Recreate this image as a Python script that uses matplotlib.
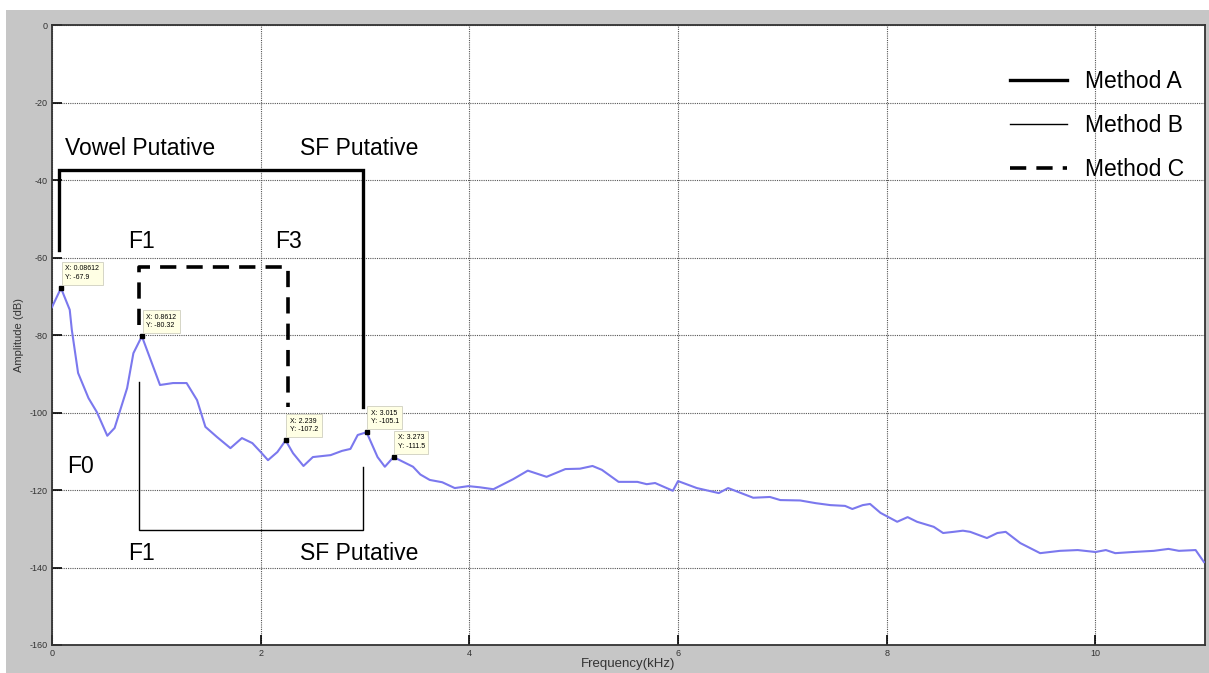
import matplotlib
matplotlib.use('Agg')
from matplotlib import pyplot as plt
from matplotlib.patches import Rectangle

plt.rcParams['font.family'] = ['Liberation Sans', 'DejaVu Sans']
plt.rcParams['axes.unicode_minus'] = False

# spectrum (kHz, dB)
freq = [0.0, 0.08612, 0.17, 0.19, 0.25, 0.35, 0.43, 0.53, 0.60, 0.72, 0.78, 0.8612,
        1.035, 1.16, 1.29, 1.39, 1.47, 1.58, 1.71, 1.82, 1.92, 2.0, 2.07, 2.16, 2.239,
        2.31, 2.41, 2.5, 2.67, 2.78, 2.86, 2.93, 3.015, 3.12, 3.19, 3.273, 3.46, 3.53,
        3.62, 3.74, 3.86, 3.99, 4.1, 4.23, 4.42, 4.56, 4.74, 4.92, 5.06, 5.18, 5.27,
        5.43, 5.61, 5.7, 5.78, 5.95, 6.0, 6.18, 6.39, 6.48, 6.72, 6.88, 6.98, 7.17,
        7.32, 7.46, 7.6, 7.67, 7.77, 7.84, 7.94, 8.1, 8.2, 8.29, 8.45, 8.54, 8.64,
        8.73, 8.8, 8.96, 9.06, 9.14, 9.28, 9.47, 9.66, 9.83, 10.0, 10.1, 10.19, 10.36,
        10.56, 10.7, 10.8, 10.96, 11.04]
amp = [-72.8, -67.9, -73.5, -78.7, -89.8, -96.3, -99.9, -106.0, -104.0, -93.7, -84.7, -80.32,
       -92.9, -92.4, -92.4, -96.8, -103.7, -106.3, -109.2, -106.6, -107.9, -110.2, -112.3, -110.2, -107.2,
       -110.5, -113.8, -111.5, -111.0, -109.9, -109.4, -105.8, -105.1, -111.5, -114.0, -111.5, -114.0, -116.0,
       -117.4, -118.0, -119.5, -119.0, -119.3, -119.8, -117.2, -115.0, -116.6, -114.6, -114.5, -113.8, -114.8,
       -117.9, -117.9, -118.5, -118.2, -120.2, -117.7, -119.5, -120.8, -119.5, -122.0, -121.8, -122.6, -122.7,
       -123.4, -123.9, -124.1, -124.9, -123.9, -123.6, -125.9, -128.2, -127.0, -128.2, -129.5, -131.1, -130.8,
       -130.5, -130.8, -132.4, -131.1, -130.8, -133.7, -136.3, -135.7, -135.5, -136.0, -135.5, -136.3, -136.0,
       -135.7, -135.2, -135.7, -135.5, -138.6]

# data tips
tip_x = [0.08612, 0.8612, 2.239, 3.015, 3.273]
tip_y = [-67.9, -80.32, -107.2, -105.1, -111.5]
tip_text = ['X: 0.08612\nY: -67.9', 'X: 0.8612\nY: -80.32', 'X: 2.239\nY: -107.2',
            'X: 3.015\nY: -105.1', 'X: 3.273\nY: -111.5']

# bracket outlines for the three methods
methodA_x = [0.067, 0.067, 2.98, 2.98]
methodA_y = [-58, -37.4, -37.4, -98.5]
methodB_x = [0.83, 0.83, 2.98, 2.98]
methodB_y = [-92, -130.3, -130.3, -114]
methodC_x = [0.83, 0.83, 2.26, 2.26]
methodC_y = [-77.5, -62.5, -62.5, -98.5]

# region labels (x, baseline y, text)
region_labels = [(0.125, -33.5, 'Vowel Putative'), (2.38, -33.5, 'SF Putative'),
                 (0.73, -57.5, 'F1'), (2.14, -57.5, 'F3'), (0.144, -115.6, 'F0'),
                 (0.73, -138.0, 'F1'), (2.38, -138.0, 'SF Putative')]

xticks = [0, 2, 4, 6, 8, 10]
yticks = [0, -20, -40, -60, -80, -100, -120, -140, -160]

fig = plt.figure(figsize=(12.09, 6.73), dpi=100)
fig.patch.set_facecolor('white')
fig.patches.append(Rectangle((6 / 1209, 0), 1, 1 - 10 / 673, transform=fig.transFigure,
                             facecolor='#c6c6c6', edgecolor='none', zorder=-1))
ax = fig.add_axes([52 / 1209, 1 - 645 / 673, 1153 / 1209, 620 / 673])
ax.set_facecolor('white')

ax.plot(freq, amp, color='#7b78ee', lw=1.5, zorder=3)

ax.plot(methodA_x, methodA_y, color='black', lw=2.4, solid_joinstyle='miter', label='Method A', zorder=4)
ax.plot(methodB_x, methodB_y, color='black', lw=1.0, solid_joinstyle='miter', label='Method B', zorder=4)
ax.plot(methodC_x, methodC_y, color='black', lw=2.6, dashes=(4.5, 2.8), label='Method C', zorder=4)

ax.plot(tip_x, tip_y, 's', color='black', ms=3.5, zorder=5)
for x, y, t in zip(tip_x, tip_y, tip_text):
    ax.annotate(t, (x, y), xytext=(3, 5), textcoords='offset points', ha='left', va='bottom',
                fontsize=5, linespacing=1.35,
                bbox=dict(boxstyle='square,pad=0.5', facecolor='#ffffe4', edgecolor='#cfcfbf', lw=0.6),
                zorder=6)

for x, y, t in region_labels:
    ax.text(x, y, t, fontsize=16.5, ha='left', va='baseline', color='black', zorder=6)

ax.set_xlim(0, 11.05)
ax.set_ylim(-160, 0)
ax.set_xticks(xticks)
ax.set_yticks(yticks)
ax.set_xticklabels([str(v) for v in xticks])
ax.set_yticklabels([str(v) for v in yticks])
ax.tick_params(direction='in', length=7, width=1.2, labelsize=6.5, labelcolor='#333333', pad=3)
ax.grid(True, linestyle=(0, (1, 1)), color='#555555', lw=0.8)
for s in ax.spines.values():
    s.set_linewidth(1.3)
    s.set_color('#333333')

ax.set_xlabel('Frequency(kHz)', fontsize=9.5, color='#333333', labelpad=0)
ax.set_ylabel('Amplitude (dB)', fontsize=8, color='#333333', labelpad=4)

ax.legend(loc='upper left', bbox_to_anchor=(0.831, 0.927), frameon=False, fontsize=16.5,
          handlelength=2.5, handletextpad=0.75, labelspacing=0.92, borderpad=0, borderaxespad=0)

fig.savefig('out.png', dpi=100)
